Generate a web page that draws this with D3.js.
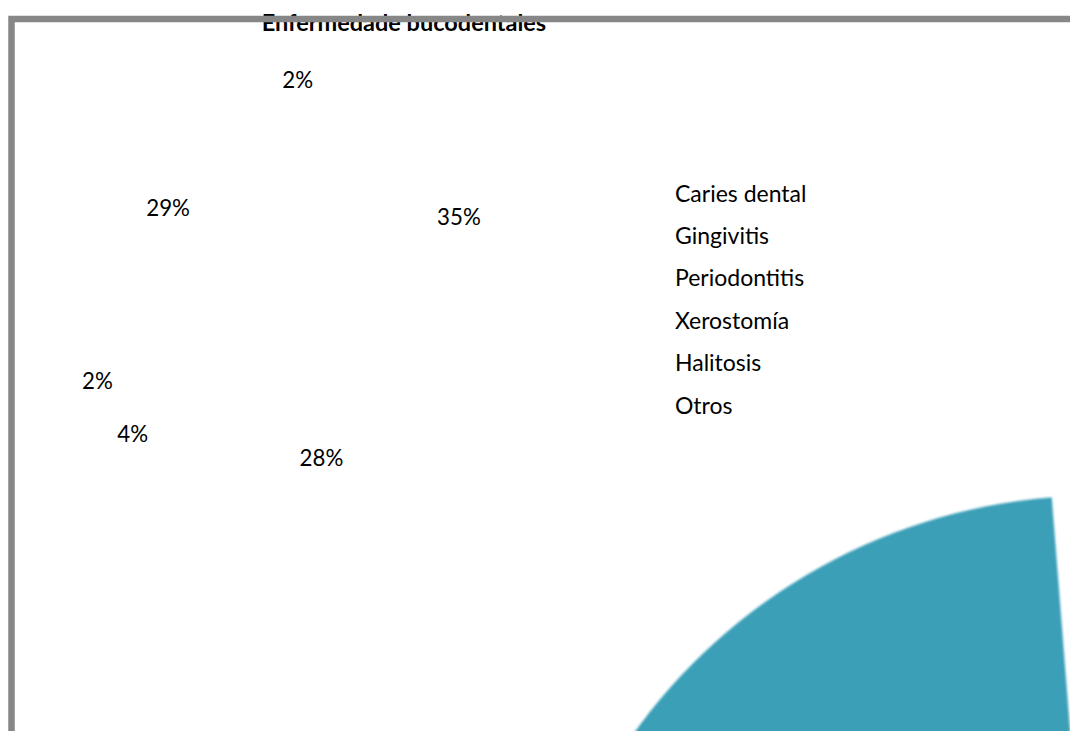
<!DOCTYPE html>
<html>
<head>
<meta charset="utf-8">
<script src="https://cdn.jsdelivr.net/npm/d3@7"></script>
<style>
  html, body { margin: 0; padding: 0; background: #ffffff; }
  svg { display: block; }
  text { font-family: Lato, "Open Sans", sans-serif; fill: #000000; }
</style>
</head>
<body>
<svg id="chart" width="1070" height="731"></svg>
<script>
// ---- data ----
const chartTitle = "Enfermedade bucodentales";
const categories = ["Caries dental", "Gingivitis", "Periodontitis", "Xerostomía", "Halitosis", "Otros"];
const values = [35, 28, 4, 2, 29, 2];
const sliceFills = ["none", "none", "none", "none", "#3a9fb8", "none"];

// ---- layout ----
const W = 1070, H = 731;
const svg = d3.select("#chart");

const defs = svg.append("defs");
defs.append("filter").attr("id", "soft")
  .attr("x", "-5%").attr("y", "-5%").attr("width", "110%").attr("height", "110%")
  .append("feGaussianBlur").attr("stdDeviation", 0.9);

const pie = d3.pie().value(d => d).sort(null);
const slices = pie(values);
const total = d3.sum(values);
const pct = d3.format(".0%");

// title (drawn first so the plot frame sits over it)
svg.append("text")
  .attr("x", 404).attr("y", 30.5)
  .attr("text-anchor", "middle")
  .attr("font-size", 23.5).attr("font-weight", "bold")
  .text(chartTitle);

// large pie, turned slightly by its first-slice angle
const pieCenter = [1096.4, 1064.6];
const pieRadius = 569;
const firstSliceAngle = 2.7; // degrees
const bigArc = d3.arc().innerRadius(0).outerRadius(pieRadius);
svg.append("g")
  .attr("transform", `translate(${pieCenter[0]},${pieCenter[1]}) rotate(${firstSliceAngle})`)
  .attr("filter", "url(#soft)")
  .selectAll("path")
  .data(slices)
  .join("path")
  .attr("d", bigArc)
  .attr("fill", (d, i) => sliceFills[i]);

// percentage labels: large shares sit inside, small ones go outside
const labelCenter = [311, 292];
const insideR = 166;
const minOutsideGap = 16 * Math.PI / 180;

const labels = slices.map(d => ({
  d,
  inside: d.value / total >= 0.1,
  angle: (d.startAngle + d.endAngle) / 2
}));

// spread neighbouring outside labels so they keep a minimum angular gap
const outside = labels.filter(l => !l.inside).sort((a, b) => a.angle - b.angle);
for (let i = 1; i < outside.length; i++) {
  const a = outside[i - 1], b = outside[i];
  const gap = b.angle - a.angle;
  if (gap < minOutsideGap) {
    const push = (minOutsideGap - gap) / 2;
    a.angle -= push;
    b.angle += push;
  }
}

function labelPos(l) {
  const r = l.inside ? insideR : 211 + 22 * Math.abs(Math.sin(l.angle));
  return [r * Math.sin(l.angle), -r * Math.cos(l.angle)];
}

svg.append("g")
  .attr("transform", `translate(${labelCenter[0]},${labelCenter[1]})`)
  .selectAll("text")
  .data(labels)
  .join("text")
  .attr("transform", l => `translate(${labelPos(l)})`)
  .attr("text-anchor", "middle")
  .attr("dy", "0.36em")
  .attr("font-size", 22.3)
  .text(l => pct(l.d.value / total));

// legend
const legendY = d3.scalePoint().domain(categories).range([201.5, 413.5]);
svg.append("g")
  .selectAll("text")
  .data(categories)
  .join("text")
  .attr("x", 675)
  .attr("y", d => legendY(d))
  .attr("font-size", 23)
  .text(d => d);

// plot frame
svg.append("rect")
  .attr("x", 11.5).attr("y", 19)
  .attr("width", 1200).attr("height", 900)
  .attr("fill", "none")
  .attr("stroke", "#878787")
  .attr("stroke-width", 6.5);
</script>
</body>
</html>
